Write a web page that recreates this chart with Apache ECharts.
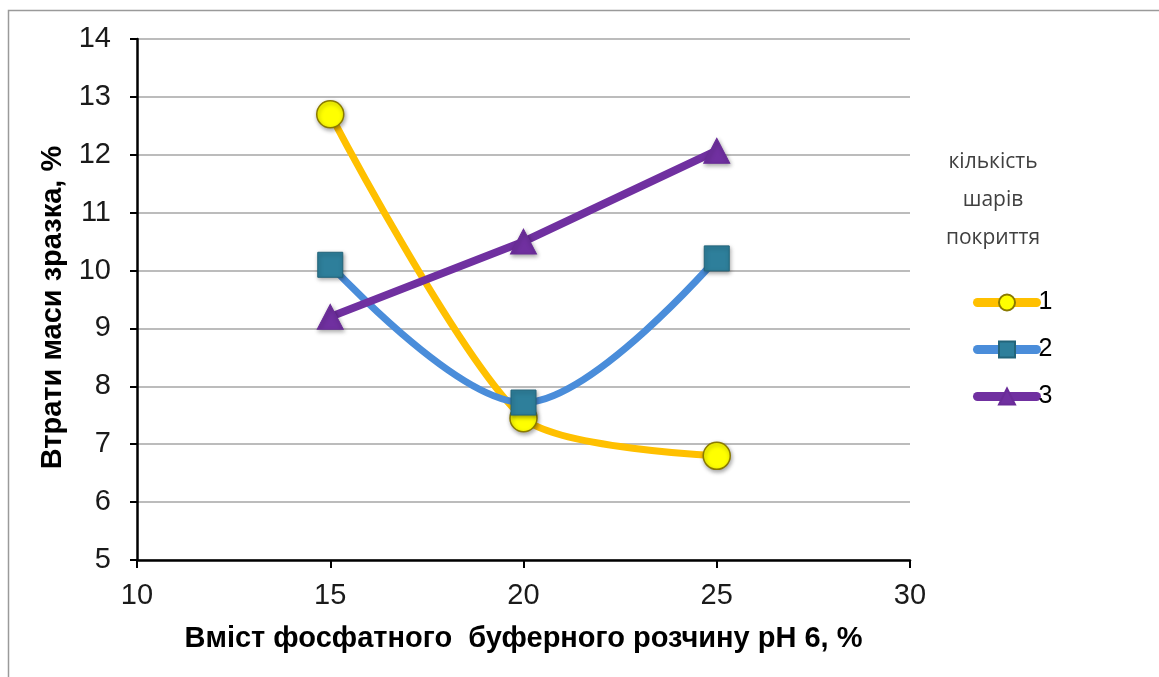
<!DOCTYPE html>
<html>
<head>
<meta charset="utf-8">
<title>Втрати маси зразка</title>
<script src="https://cdn.jsdelivr.net/npm/echarts@6/dist/echarts.min.js"></script>
<style>
  html, body { margin: 0; padding: 0; background: #ffffff; }
  #chart { width: 1159px; height: 677px; }
</style>
</head>
<body>
<div id="chart"></div>
<script>
// Phosphate buffer content (pH 6), %
const xValues = [15, 20, 25];
// Sample mass loss, %, for 1, 2 and 3 coating layers
const layers1 = [12.7, 7.45, 6.8];
const layers2 = [10.1, 7.72, 10.21];
const layers3 = [9.2, 10.5, 12.07];
const seriesNames = ['1', '2', '3'];
const legendTitleLines = ['кількість', 'шарів', 'покриття'];
const xAxisTitle = 'Вміст фосфатного  буферного розчину рН 6, %';
const yAxisTitle = 'Втрати маси зразка, %';

const toPoints = vals => xValues.map((x, i) => [x, vals[i]]);

const FONT = '"Liberation Sans", Arial, sans-serif';
const markerShadow = { shadowBlur: 4, shadowColor: 'rgba(0,0,0,0.35)', shadowOffsetX: 1, shadowOffsetY: 2 };

const chart = echarts.init(document.getElementById('chart'), null, { renderer: 'canvas' });

const legendTitleY = [162, 200, 238];

chart.setOption({
  animation: false,
  backgroundColor: '#ffffff',
  grid: { left: 137, right: 249, top: 39, bottom: 117, containLabel: false },
  graphic: [
    {
      type: 'rect',
      silent: true,
      shape: { x: 8.5, y: 10.5, width: 1200, height: 700 },
      style: { fill: 'none', stroke: '#9a9a9a', lineWidth: 1.5 }
    }
  ].concat(legendTitleLines.map((t, i) => ({
    type: 'text',
    silent: true,
    style: {
      text: t,
      x: 993,
      y: legendTitleY[i],
      align: 'center',
      verticalAlign: 'middle',
      fontFamily: '"Open Sans", sans-serif',
      fontSize: 21,
      fill: '#404040'
    }
  }))),
  legend: {
    orient: 'vertical',
    left: 968,
    top: 285,
    itemWidth: 59,
    itemHeight: 20,
    itemGap: 22,
    selectedMode: false,
    lineStyle: { width: 9, cap: 'round' },
    textStyle: { fontFamily: FONT, fontSize: 25, color: '#000000', padding: [0, 0, 0, -3] },
    data: seriesNames
  },
  xAxis: {
    type: 'value',
    min: 10,
    max: 30,
    interval: 5,
    name: xAxisTitle,
    nameLocation: 'middle',
    nameGap: 64,
    nameTextStyle: { fontFamily: FONT, fontSize: 29, fontWeight: 'bold', color: '#000000' },
    axisLine: { show: true, onZero: false, lineStyle: { color: '#000000', width: 2.5 } },
    axisTick: { show: true, inside: false, length: 8, lineStyle: { color: '#000000', width: 2 } },
    axisLabel: { fontFamily: FONT, fontSize: 29, color: '#1a1a1a', margin: 21 },
    splitLine: { show: false }
  },
  yAxis: {
    type: 'value',
    min: 5,
    max: 14,
    interval: 1,
    name: yAxisTitle,
    nameLocation: 'middle',
    nameGap: 68,
    nameRotate: 90,
    nameTextStyle: { fontFamily: FONT, fontSize: 29, fontWeight: 'bold', color: '#000000', padding: [0, 16, 0, 0] },
    axisLine: { show: true, lineStyle: { color: '#000000', width: 2.5 } },
    axisTick: { show: true, inside: false, length: 7, lineStyle: { color: '#000000', width: 2 } },
    axisLabel: { fontFamily: FONT, fontSize: 29, color: '#1a1a1a', margin: 26 },
    splitLine: { show: true, lineStyle: { color: '#a6a6a6', width: 1.5 } }
  },
  series: [
    {
      name: seriesNames[0],
      type: 'line',
      data: toPoints(layers1),
      smooth: 0.25,
      symbol: 'circle',
      symbolSize: 27,
      lineStyle: { color: '#FFC000', width: 7 },
      itemStyle: Object.assign({ color: '#FFFF00', borderColor: '#8a7a00', borderWidth: 1.5 }, markerShadow),
      z: 2
    },
    {
      name: seriesNames[1],
      type: 'line',
      data: toPoints(layers2),
      smooth: 0.35,
      symbol: 'rect',
      symbolSize: 25,
      lineStyle: { color: '#4A8DDA', width: 7 },
      itemStyle: Object.assign({ color: '#2E7F9B', borderColor: '#22647a', borderWidth: 1 }, markerShadow),
      z: 3
    },
    {
      name: seriesNames[2],
      type: 'line',
      data: toPoints(layers3),
      smooth: false,
      symbol: 'triangle',
      symbolSize: [26, 25],
      lineStyle: { color: '#7030A0', width: 8 },
      itemStyle: Object.assign({ color: '#7030A0', borderColor: '#6a2c98', borderWidth: 1 }, markerShadow),
      z: 4
    }
  ]
});
</script>
</body>
</html>
